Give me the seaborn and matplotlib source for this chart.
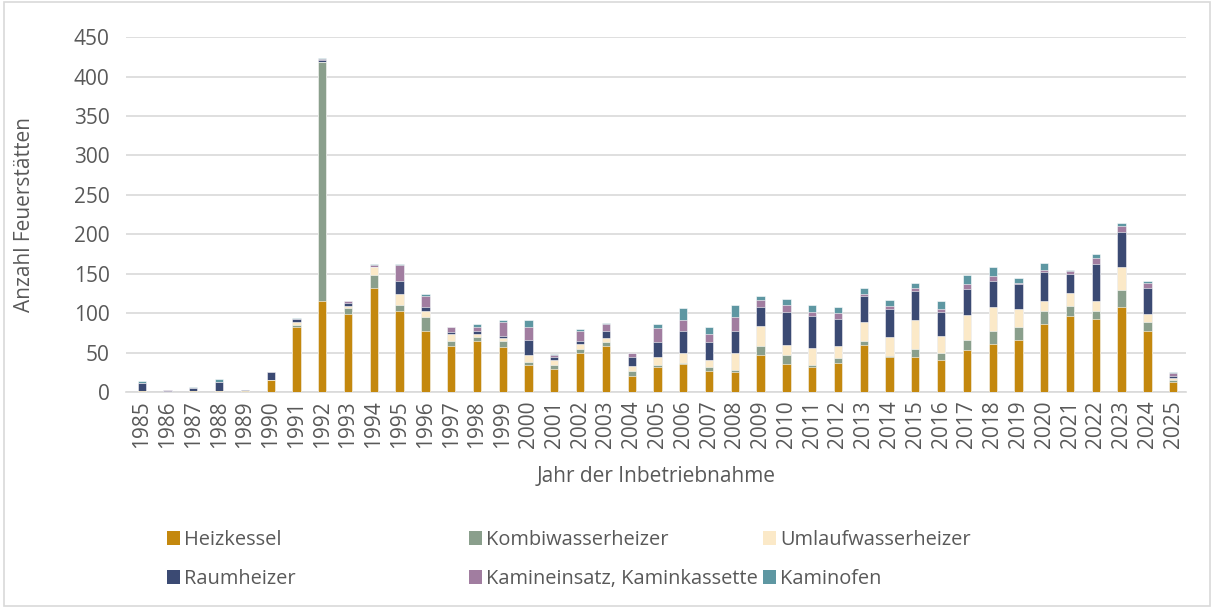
import matplotlib
matplotlib.use("Agg")
import matplotlib.pyplot as plt
from matplotlib.patches import Patch, Rectangle
import numpy as np
import pandas as pd
import seaborn as sns

years = [str(y) for y in range(1985, 2026)]

heizkessel = [1, 0, 1, 1, 1, 15, 83, 115, 99, 132, 103, 78, 59, 65, 57, 35, 29, 50, 58, 21,
              32, 36, 27, 25, 47, 36, 32, 37, 60, 44, 44, 41, 54, 61, 66, 87, 96, 93, 108, 78, 13]
kombiwasserheizer = [0, 0, 0, 0, 0, 0, 2, 304, 8, 16, 8, 17, 6, 5, 8, 3, 6, 5, 6, 6,
                     2, 1, 5, 3, 11, 11, 2, 6, 5, 2, 11, 8, 12, 17, 17, 16, 13, 10, 22, 11, 2]
umlaufwasserheizer = [0, 0, 0, 0, 0, 0, 4, 0, 2, 11, 14, 8, 9, 4, 4, 9, 6, 6, 5, 6,
                      11, 13, 9, 21, 26, 13, 22, 15, 24, 24, 36, 22, 32, 30, 23, 12, 17, 12, 29, 10, 3]
raumheizer = [10, 2, 4, 12, 2, 10, 4, 2, 4, 0, 16, 5, 2, 3, 2, 19, 3, 4, 8, 11,
              18, 28, 22, 29, 24, 42, 41, 35, 33, 35, 37, 30, 33, 33, 31, 37, 24, 48, 44, 33, 3]
kamineinsatz = [0, 1, 0, 0, 0, 0, 0, 1, 3, 2, 20, 14, 6, 6, 18, 17, 3, 13, 9, 5,
                18, 13, 11, 17, 9, 8, 5, 7, 2, 4, 4, 4, 6, 6, 1, 3, 4, 7, 8, 6, 3]
kaminofen = [3, 0, 2, 4, 0, 1, 1, 1, 0, 1, 2, 2, 1, 3, 2, 8, 1, 2, 2, 1,
             5, 16, 8, 15, 5, 8, 9, 8, 8, 8, 6, 11, 11, 11, 7, 9, 1, 5, 3, 3, 2]

series = ["Heizkessel", "Kombiwasserheizer", "Umlaufwasserheizer",
          "Raumheizer", "Kamineinsatz, Kaminkassette", "Kaminofen"]
colors = ["#C4880E", "#8A9F8C", "#FBE9C8", "#3B4A73", "#A17DA0", "#5E97A2"]

df = pd.DataFrame({
    "Jahr": years,
    series[0]: heizkessel,
    series[1]: kombiwasserheizer,
    series[2]: umlaufwasserheizer,
    series[3]: raumheizer,
    series[4]: kamineinsatz,
    series[5]: kaminofen,
})

sns.set_theme(style="white")
plt.rcParams["font.family"] = ["Open Sans", "DejaVu Sans"]
textcol = "#595959"
fs = 15

fig = plt.figure(figsize=(12.14, 6.08), dpi=100)
ax = fig.add_axes([0.104, 0.355, 0.873, 0.584])

# stacked bars: draw cumulative totals from top layer down
cum = df[series].cumsum(axis=1)
for i in range(len(series) - 1, -1, -1):
    sns.barplot(x=df["Jahr"], y=cum[series[i]], color=colors[i], width=0.32,
                saturation=1, edgecolor="white", linewidth=0.4, ax=ax, zorder=3)

ax.set_ylim(0, 450)
ax.set_xlim(-0.6, 40.5)
ax.set_yticks(range(0, 451, 50))
ax.yaxis.grid(True, color="#D9D9D9", linewidth=1.2, zorder=0)
ax.xaxis.grid(False)
for s in ["top", "right", "left"]:
    ax.spines[s].set_visible(False)
ax.spines["bottom"].set_color("#D9D9D9")
ax.spines["bottom"].set_linewidth(1.2)

ax.tick_params(axis="x", rotation=90, labelsize=fs, colors=textcol, length=0, pad=6)
ax.tick_params(axis="y", labelsize=fs, colors=textcol, length=0, pad=12)
ax.set_xlabel("Jahr der Inbetriebnahme", fontsize=fs, color=textcol, labelpad=13)
ax.set_ylabel("Anzahl Feuerstätten", fontsize=fs, color=textcol, labelpad=28)

handles = [Patch(facecolor=c, edgecolor="none") for c in colors]
xs = [0.131, 0.380, 0.622]
for k in range(3):
    fig.legend([handles[k], handles[k + 3]], [series[k], series[k + 3]],
               loc="upper left", bbox_to_anchor=(xs[k], 0.142), ncol=1,
               frameon=False, fontsize=14.4, labelcolor=textcol,
               handlelength=0.65, handleheight=0.7, handletextpad=0.2,
               labelspacing=0.98, borderaxespad=0)

fig.add_artist(Rectangle((0.003, 0.003), 0.994, 0.994, transform=fig.transFigure,
                         fill=False, edgecolor="#D9D9D9", linewidth=1.2))

fig.savefig("out.png", dpi=100)
